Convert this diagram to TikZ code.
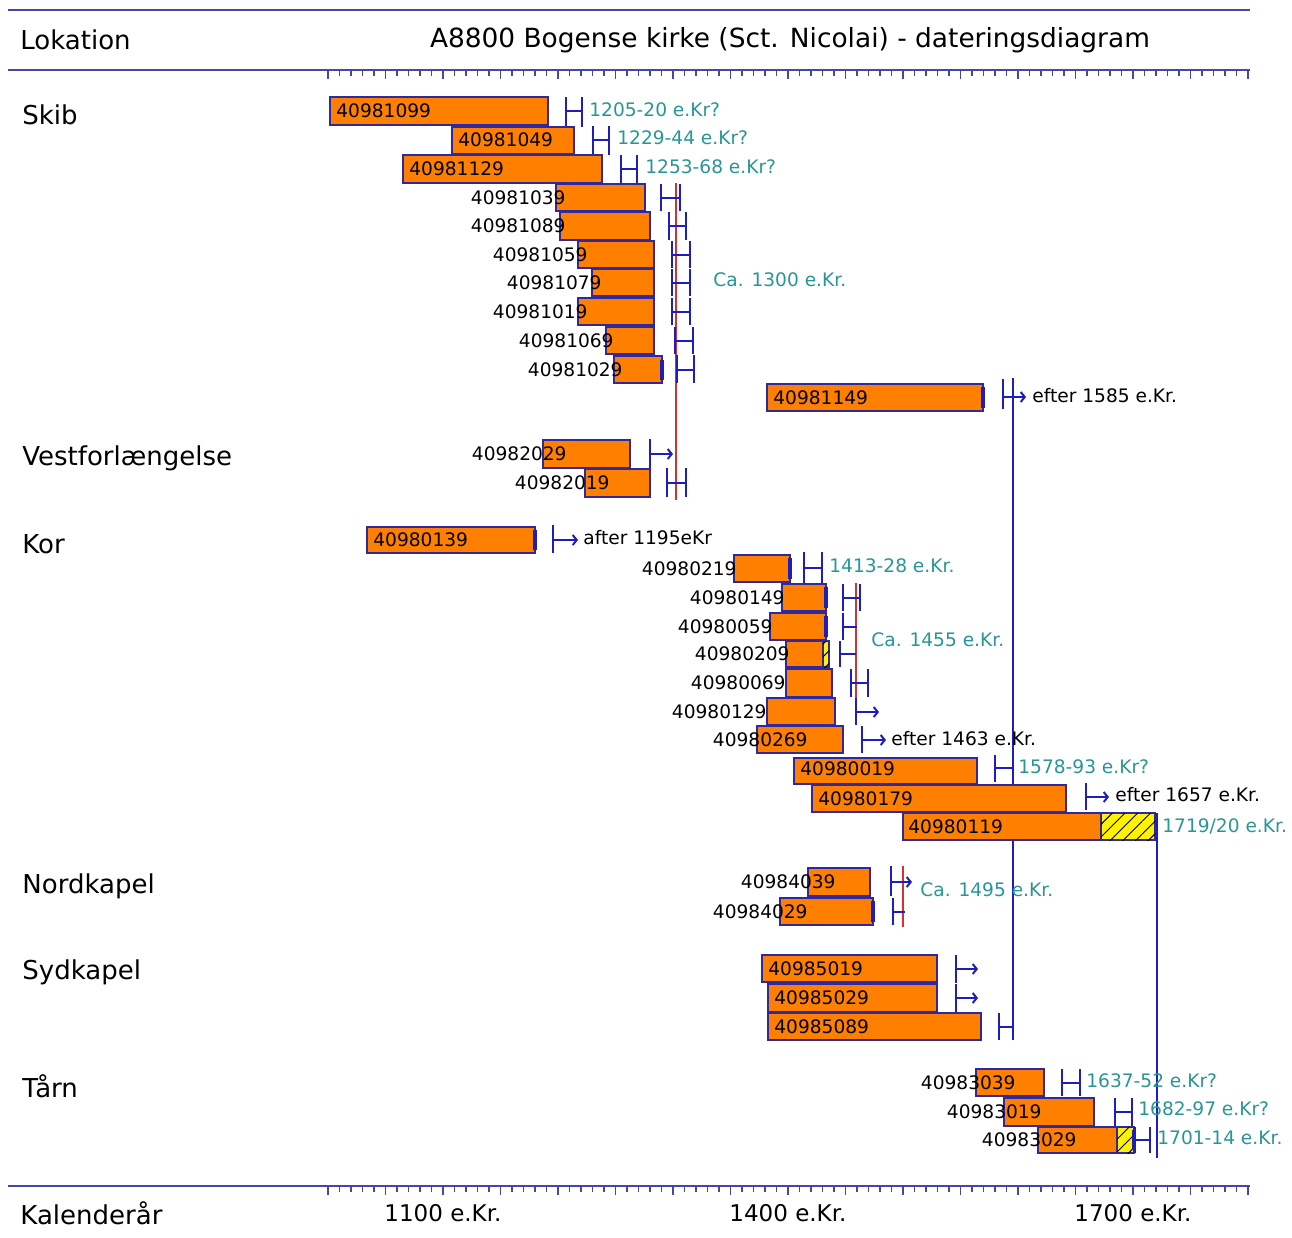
\documentclass[tikz,border=0pt]{standalone}
\usepackage{fontspec}
\setmainfont{DejaVu Sans}
\usetikzlibrary{arrows.meta,patterns.meta}
\definecolor{barfill}{RGB}{255,128,0}
\definecolor{barline}{RGB}{48,40,160}
\definecolor{lineblue}{RGB}{30,30,190}
\definecolor{axisblue}{RGB}{70,70,170}
\definecolor{dateteal}{RGB}{40,150,150}
\definecolor{refred}{RGB}{210,50,50}
\tikzset{
  bar/.style={draw=barline, fill=barfill, line width=1pt},
  sapwood/.style={draw=barline, fill=yellow, line width=1pt,
    postaction={pattern={Lines[angle=45,distance=4.5pt,line width=0.5pt]}}},
  span/.style={draw=lineblue, line width=1pt},
  after/.style={span, -{Straight Barb[length=2pt,width=5pt]}},
  endmark/.style={draw=lineblue, line width=2pt},
  bigline/.style={draw=lineblue, line width=1pt},
  refline/.style={draw=refred, line width=1pt},
  rule/.style={draw=axisblue, line width=1.2pt},
  tick/.style={draw=axisblue, line width=0.8pt},
  idlbl/.style={font=\fontsize{9.3}{11}\selectfont, inner sep=0pt},
  datelbl/.style={idlbl, text=dateteal, anchor=west},
  notelbl/.style={idlbl, anchor=west},
  loclbl/.style={font=\fontsize{13}{15}\selectfont, anchor=west, inner sep=0pt},
  yearlbl/.style={font=\fontsize{11.5}{14}\selectfont, inner sep=0pt}
}
\begin{document}
\begin{tikzpicture}[x=0.5pt, y=-0.5pt]
  \useasboundingbox (0,0) rectangle (1292,1238);

  % header and axes
  \draw[rule] (8,10) -- (1250,10);
  \draw[rule] (8,70) -- (1250,70);
  \draw[rule] (8,1186) -- (1250,1186);
  \node[loclbl] (lok) at (20,40) {Lokation};
  \node[font=\fontsize{13.2}{16}\selectfont, inner sep=0pt] (title) at (790,40)
    {A8800 Bogense kirke (Sct. Nicolai) - dateringsdiagram};
  \node[loclbl] (kal) at (20,1213) {Kalenderår};
  \node[yearlbl] (y1100) at (443,1213) {1100 e.Kr.};
  \node[yearlbl] (y1400) at (788,1213) {1400 e.Kr.};
  \node[yearlbl] (y1700) at (1133,1213) {1700 e.Kr.};
  \foreach \yr in {1000,1010,...,1800}{
    \pgfmathsetmacro{\tx}{443+(\yr-1100)*1.15}
    \pgfmathsetmacro{\tl}{mod(\yr,50)==0 ? 9 : 6}
    \draw[tick] (\tx,70) -- ++(0,\tl);
    \draw[tick] (\tx,1186) -- ++(0,\tl);
  }

  % long reference lines
  \draw[refline] (676,183) -- (676,500);
  \draw[refline] (856,583) -- (856,725);
  \draw[refline] (903,866) -- (903,927);
  \draw[bigline] (1013,378) -- (1013,1040);
  \draw[bigline] (1157,813) -- (1157,1158);

  % Skib
  \node[loclbl] (skib) at (22,115) {Skib};
  \draw[bar] (330,97) rectangle (548,125);
  \node[idlbl, anchor=west] (s1099) at (336,111) {40981099};
  \draw[span] (566,97) -- (566,127) (566,111) -- (582,111) (582,97) -- (582,127);
  \node[datelbl] (d1205) at (589,110) {1205-20 e.Kr?};

  \draw[bar] (452,127) rectangle (574,154);
  \node[idlbl, anchor=west] (s1049) at (458,140) {40981049};
  \draw[span] (593,126) -- (593,155) (593,140) -- (609,140) (609,126) -- (609,155);
  \node[datelbl] (d1229) at (617,138) {1229-44 e.Kr?};

  \draw[bar] (403,155) rectangle (602,183);
  \node[idlbl, anchor=west] (s1129) at (409,169) {40981129};
  \draw[span] (621,155) -- (621,184) (621,169) -- (637,169) (637,155) -- (637,184);
  \node[datelbl] (d1253) at (645,167) {1253-68 e.Kr?};

  \draw[bar] (556,184) rectangle (645,211);
  \node[idlbl, anchor=east] (s1039) at (566,197.5) {40981039};
  \draw[span] (661,184) -- (661,211) (661,197.5) -- (680,197.5) (680,184) -- (680,211);

  \draw[bar] (560,212) rectangle (650,240);
  \node[idlbl, anchor=east] (s1089) at (566,226) {40981089};
  \draw[span] (669,212) -- (669,240) (669,226) -- (686,226) (686,212) -- (686,240);

  \draw[bar] (578,241) rectangle (654,268);
  \node[idlbl, anchor=east] (s1059) at (588,254.5) {40981059};
  \draw[span] (672,241) -- (672,268) (672,254.5) -- (690,254.5) (690,241) -- (690,268);

  \draw[bar] (592,269) rectangle (654,296);
  \node[idlbl, anchor=east] (s1079) at (602,282.5) {40981079};
  \draw[span] (672,269) -- (672,296) (672,282.5) -- (690,282.5) (690,269) -- (690,296);

  \draw[bar] (578,298) rectangle (654,325);
  \node[idlbl, anchor=east] (s1019) at (588,311.5) {40981019};
  \draw[span] (672,298) -- (672,325) (672,311.5) -- (690,311.5) (690,298) -- (690,325);

  \draw[bar] (606,327) rectangle (654,354);
  \node[idlbl, anchor=east] (s1069) at (614,340.5) {40981069};
  \draw[span] (675,327) -- (675,354) (675,340.5) -- (693,340.5) (693,327) -- (693,354);

  \draw[bar] (614,356) rectangle (662,383);
  \node[idlbl, anchor=east] (s1029) at (623,369.5) {40981029};
  \draw[endmark] (662,360) -- (662,380);
  \draw[span] (677,355) -- (677,383) (677,369.5) -- (694,369.5) (694,355) -- (694,383);
  \node[datelbl] (d1300) at (713,280) {Ca. 1300 e.Kr.};

  \draw[bar] (767,384) rectangle (983,411);
  \node[idlbl, anchor=west] (s1149) at (773,397.5) {40981149};
  \draw[endmark] (983,387) -- (983,408);
  \draw[span] (1003,379) -- (1003,409);
  \draw[after] (1003,397) -- (1026,397);
  \node[notelbl] (d1585) at (1032,396) {efter 1585 e.Kr.};

  % Vestforlaengelse
  \node[loclbl] (vest) at (22,458) {Vestforlængelse};
  \draw[bar] (543,440) rectangle (630,468);
  \node[idlbl, anchor=east] (v2029) at (567,454) {40982029};
  \draw[span] (650,439) -- (650,468);
  \draw[after] (650,454) -- (673,454);

  \draw[bar] (585,469) rectangle (650,497);
  \node[idlbl, anchor=east] (v2019) at (610,483) {40982019};
  \draw[span] (667,468) -- (667,497) (667,483) -- (686,483) (686,468) -- (686,497);

  % Kor
  \node[loclbl] (kor) at (22,544) {Kor};
  \draw[bar] (367,527) rectangle (535,553);
  \node[idlbl, anchor=west] (k0139) at (373,540) {40980139};
  \draw[endmark] (535,530) -- (535,550);
  \draw[span] (553,525) -- (553,553);
  \draw[after] (553,540) -- (578,540);
  \node[notelbl] (d1195) at (583,538) {after 1195eKr};

  \draw[bar] (734,555) rectangle (790,582);
  \node[idlbl, anchor=east] (k0219) at (737,568.5) {40980219};
  \draw[endmark] (790,558) -- (790,579);
  \draw[span] (804,552) -- (804,584) (804,568) -- (822,568) (822,552) -- (822,584);
  \node[datelbl] (d1413) at (829,566) {1413-28 e.Kr.};

  \draw[bar] (782,584) rectangle (826,611);
  \node[idlbl, anchor=east] (k0149) at (785,597.5) {40980149};
  \draw[endmark] (826,587) -- (826,608);
  \draw[span] (843,584) -- (843,611) (843,597.5) -- (860,597.5) (860,584) -- (860,611);

  \draw[bar] (770,613) rectangle (826,640);
  \node[idlbl, anchor=east] (k0059) at (773,626.5) {40980059};
  \draw[endmark] (826,616) -- (826,637);
  \draw[span] (843,613) -- (843,640) (843,626.5) -- (857,626.5);

  \draw[bar] (786,641) rectangle (829,667);
  \draw[sapwood] (823,641) rectangle (829,667);
  \node[idlbl, anchor=east] (k0209) at (790,654) {40980209};
  \draw[span] (840,641) -- (840,667) (840,654) -- (856,654);
  \node[datelbl] (d1455) at (871,640) {Ca. 1455 e.Kr.};

  \draw[bar] (786,669) rectangle (832,697);
  \node[idlbl, anchor=east] (k0069) at (786,683) {40980069};
  \draw[span] (851,669) -- (851,697) (851,683) -- (868,683) (868,669) -- (868,697);

  \draw[bar] (767,698) rectangle (835,725);
  \node[idlbl, anchor=east] (k0129) at (767,711.5) {40980129};
  \draw[span] (856,698) -- (856,725);
  \draw[after] (856,712) -- (879,712);

  \draw[bar] (757,726) rectangle (843,753);
  \node[idlbl, anchor=east] (k0269) at (808,739.5) {40980269};
  \draw[span] (862,726) -- (862,753);
  \draw[after] (862,740) -- (886,740);
  \node[notelbl] (d1463) at (891,739) {efter 1463 e.Kr.};

  \draw[bar] (794,758) rectangle (977,784);
  \node[idlbl, anchor=west] (k0019) at (800,769) {40980019};
  \draw[span] (995,755) -- (995,782) (995,768) -- (1013,768);
  \node[datelbl] (d1578) at (1018,767) {1578-93 e.Kr?};

  \draw[bar] (812,785) rectangle (1066,812);
  \node[idlbl, anchor=west] (k0179) at (818,798.5) {40980179};
  \draw[span] (1086,783) -- (1086,810);
  \draw[after] (1086,797) -- (1109,797);
  \node[notelbl] (d1657) at (1115,795) {efter 1657 e.Kr.};

  \draw[bar] (903,813) rectangle (1101,840);
  \draw[sapwood] (1101,813) rectangle (1155,840);
  \node[idlbl, anchor=west] (k0119) at (908,826.5) {40980119};
  \node[datelbl] (d1719) at (1162,826) {1719/20 e.Kr.};

  % Nordkapel
  \node[loclbl] (nord) at (22,886) {Nordkapel};
  \draw[bar] (808,868) rectangle (870,896);
  \node[idlbl, anchor=east] (n4039) at (836,882) {40984039};
  \draw[span] (891,866) -- (891,896);
  \draw[after] (891,882) -- (912,882);
  \node[datelbl] (d1495) at (920,890) {Ca. 1495 e.Kr.};

  \draw[bar] (780,898) rectangle (873,925);
  \node[idlbl, anchor=east] (n4029) at (808,911.5) {40984029};
  \draw[endmark] (873,901) -- (873,922);
  \draw[span] (893,898) -- (893,925) (893,911.5) -- (905,911.5);

  % Sydkapel
  \node[loclbl] (syd) at (22,972) {Sydkapel};
  \draw[bar] (762,955) rectangle (937,982);
  \node[idlbl, anchor=west] (y5019) at (768,968.5) {40985019};
  \draw[span] (956,955) -- (956,983);
  \draw[after] (956,969) -- (978,969);

  \draw[bar] (768,984) rectangle (937,1012);
  \node[idlbl, anchor=west] (y5029) at (774,998) {40985029};
  \draw[span] (956,984) -- (956,1012);
  \draw[after] (956,998) -- (978,998);

  \draw[bar] (768,1013) rectangle (981,1040);
  \node[idlbl, anchor=west] (y5089) at (774,1026.5) {40985089};
  \draw[span] (999,1013) -- (999,1040) (999,1026.5) -- (1013,1026.5);

  % Taarn
  \node[loclbl] (taarn) at (22,1086) {Tårn};
  \draw[bar] (976,1069) rectangle (1044,1096);
  \node[idlbl, anchor=east] (t3039) at (1016,1082.5) {40983039};
  \draw[span] (1062,1069) -- (1062,1096) (1062,1082.5) -- (1080,1082.5) (1080,1069) -- (1080,1096);
  \node[datelbl] (d1637) at (1086,1081) {1637-52 e.Kr?};

  \draw[bar] (1004,1098) rectangle (1094,1126);
  \node[idlbl, anchor=east] (t3019) at (1042,1112) {40983019};
  \draw[span] (1115,1098) -- (1115,1126) (1115,1112) -- (1132,1112) (1132,1098) -- (1132,1126);
  \node[datelbl] (d1682) at (1138,1109) {1682-97 e.Kr?};

  \draw[bar] (1038,1127) rectangle (1117,1153);
  \draw[sapwood] (1117,1127) rectangle (1134,1153);
  \node[idlbl, anchor=east] (t3029) at (1077,1140) {40983029};
  \draw[endmark] (1134,1130) -- (1134,1150);
  \draw[span] (1135,1127) -- (1135,1153) (1135,1140) -- (1150,1140) (1150,1127) -- (1150,1153);
  \node[datelbl] (d1701) at (1157,1138) {1701-14 e.Kr.};
\end{tikzpicture}
\end{document}
